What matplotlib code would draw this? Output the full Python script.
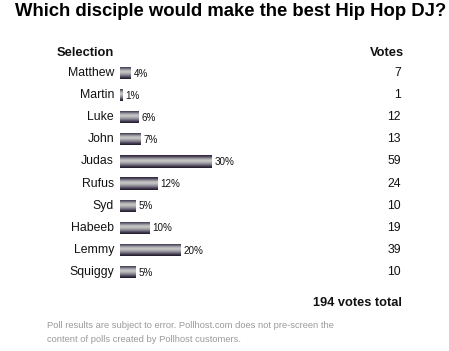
import matplotlib
matplotlib.use("Agg")
import matplotlib.pyplot as plt
import numpy as np
from matplotlib.colors import LinearSegmentedColormap

plt.rcParams["font.family"] = ["Liberation Sans", "DejaVu Sans"]

names = ["Matthew", "Martin", "Luke", "John", "Judas",
         "Rufus", "Syd", "Habeeb", "Lemmy", "Squiggy"]
votes = [7, 1, 12, 13, 59, 24, 10, 19, 39, 10]
pct_labels = ["4%", "1%", "6%", "7%", "30%", "12%", "5%", "10%", "20%", "5%"]
total = 194

title = "Which disciple would make the best Hip Hop DJ?"
footer = ["Poll results are subject to error. Pollhost.com does not pre-screen the",
          "content of polls created by Pollhost customers."]

W, H = 449, 351
fig = plt.figure(figsize=(W / 100, H / 100), dpi=100)
fig.patch.set_facecolor("white")


def fx(px):
    return px / W


def fy(py):
    return 1 - py / H


# bar axes: 3 px per percent, rows 22.1 px apart
x0, y_top, row_h = 120, 62, 22.1
ax = fig.add_axes([fx(x0), fy(y_top + row_h * len(names)), fx(300), row_h * len(names) / H])
ax.set_xlim(0, 100)
ax.set_ylim(len(names) - 0.5, -0.5)
ax.axis("off")

pcts = np.array(votes) / total * 100
widths = np.maximum(pcts, 0.9)
ypos = np.arange(len(names))
bars = ax.barh(ypos, widths, height=0.55, left=0, color="#888888", linewidth=0)

# stripe gradient like the old poll image bars
stripe = ["#2a2234", "#463e54", "#716c7c", "#9c9aa2", "#bebebe", "#c8c8c8",
          "#b4b4b4", "#9a98a0", "#7e7a88", "#5a5266", "#362e42", "#1e1826"]
cmap = LinearSegmentedColormap.from_list("stripe", stripe)
grad = np.linspace(0, 1, 64).reshape(-1, 1)
for b in bars:
    x, y = b.get_x(), b.get_y()
    w, h = b.get_width(), b.get_height()
    im = ax.imshow(grad, cmap=cmap, aspect="auto", extent=(x, x + w, y + h, y),
                   interpolation="bilinear", zorder=2)
    im.set_clip_path(b)
ax.set_xlim(0, 100)
ax.set_ylim(len(names) - 0.5, -0.5)

for i, (n, v, p, w) in enumerate(zip(names, votes, pct_labels, widths)):
    ax.text(-2, i, n, ha="right", va="center", fontsize=8.8, color="#111111", clip_on=False)
    ax.text(w + 1, i + 0.03, p, ha="left", va="center", fontsize=7.1, color="#111111", clip_on=False)
    ax.text(93.7, i, str(v), ha="right", va="center", fontsize=8.8, color="#111111", clip_on=False)

fig.text(fx(231), fy(12), title, ha="center", va="center", fontsize=13.3,
         fontweight="bold", color="black")
fig.text(fx(114), fy(53), "Selection", ha="right", va="center", fontsize=9.3,
         fontweight="bold", color="#111111")
fig.text(fx(404), fy(53), "Votes", ha="right", va="center", fontsize=9.3,
         fontweight="bold", color="#111111")
fig.text(fx(402), fy(303), f"{total} votes total", ha="right", va="center",
         fontsize=9.2, fontweight="bold", color="#111111")
fig.text(fx(47), fy(326), footer[0], ha="left", va="center", fontsize=6.75, color="#9a9a9a")
fig.text(fx(47), fy(339), footer[1], ha="left", va="center", fontsize=6.75, color="#9a9a9a")

fig.savefig("out.png", dpi=100, facecolor="white")
